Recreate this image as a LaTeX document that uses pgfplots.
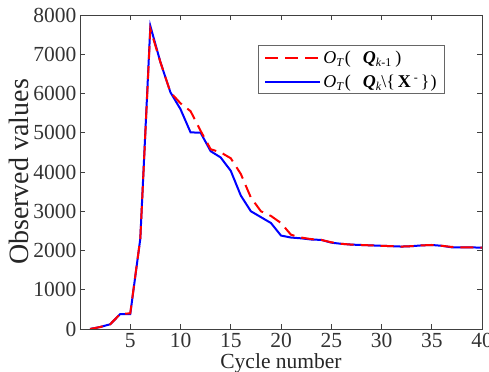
\documentclass[border=0pt]{standalone}
\usepackage{fontspec}
\setmainfont{Liberation Serif}
\usepackage{pgfplots}
\pgfplotsset{compat=1.18}
\newcommand{\sub}[1]{\raisebox{-3pt}{\fontsize{12}{13}\selectfont #1}}
\newcommand{\tl}[1]{\textrm{#1}}
\begin{document}
\begin{tikzpicture}
\begin{axis}[
  scale only axis,
  width=402pt, height=314pt,
  xmin=0, xmax=40, ymin=0, ymax=8000,
  xtick={5,10,15,20,25,30,35,40},
  xticklabels={\tl{5},\tl{10},\tl{15},\tl{20},\tl{25},\tl{30},\tl{35},\tl{40}},
  ytick={0,1000,2000,3000,4000,5000,6000,7000,8000},
  yticklabels={\tl{0},\tl{1000},\tl{2000},\tl{3000},\tl{4000},\tl{5000},\tl{6000},\tl{7000},\tl{8000}},
  tick align=inside,
  major tick length=5pt,
  axis line style={draw=black!75, line width=0.8pt},
  every tick/.style={black!75, line width=0.8pt},
  ticklabel style={font=\rmfamily\fontsize{21.5}{24}\selectfont, text=black!80},
  xticklabel style={yshift=-1pt},
  xlabel={Cycle number},
  ylabel={Observed values},
  xlabel style={font=\fontsize{21.5}{24}\selectfont, text=black!85, yshift=1pt},
  ylabel style={font=\fontsize{28}{30}\selectfont, text=black!85, yshift=-2pt},
  legend style={at={(0.908,0.904)}, anchor=north east, draw=black!60, line width=0.8pt,
    font=\fontsize{18}{20}\selectfont, row sep=6pt, inner xsep=6pt, inner ysep=3pt},
  legend image code/.code={\draw[#1] (0pt,0pt) -- (55pt,0pt);},
  legend cell align=left,
  reverse legend,
]
\addplot[blue, line width=2pt] coordinates {
(1,0) (2,50) (3,120) (4,380) (5,380) (6,2300) (7,7720) (8,6800) (9,6030)
(10,5600) (11,5010) (12,5000) (13,4530) (14,4370) (15,4030) (16,3400) (17,3000)
(18,2850) (19,2700) (20,2380) (21,2330) (22,2310) (23,2280) (24,2270) (25,2200)
(26,2170) (27,2150) (28,2140) (29,2130) (30,2120) (31,2110) (32,2100) (33,2110)
(34,2130) (35,2140) (36,2120) (37,2080) (38,2080) (39,2080) (40,2070)
};
\addlegendentry{\textit{O}\sub{\textit{T}}\kern1pt(\hspace{12pt}\textbf{\textit{Q}}\sub{\textit{k}}\textbackslash\{\,\textbf{X}\,\raisebox{6pt}{\fontsize{12}{13}\selectfont -}\,\}\kern1pt)}
\addplot[red, line width=2pt, dash pattern=on 13pt off 7pt] coordinates {
(1,0) (2,50) (3,120) (4,380) (5,400) (6,2300) (7,7640) (8,6800) (9,6030)
(10,5750) (11,5550) (12,5050) (13,4580) (14,4500) (15,4350) (16,3950) (17,3350)
(18,3000) (19,2880) (20,2700) (21,2400) (22,2330) (23,2290) (24,2270) (25,2210)
(26,2170) (27,2150) (28,2140) (29,2130) (30,2120) (31,2110) (32,2100) (33,2110)
(34,2130) (35,2140) (36,2120) (37,2090) (38,2080) (39,2080) (40,2070)
};
\addlegendentry{\textit{O}\sub{\textit{T}}\kern1pt(\hspace{12pt}\textbf{\textit{Q}}\sub{\textit{k}-1}\kern4pt)}
\end{axis}
\pgfresetboundingbox
\path ([shift={(-80pt,-43pt)}]current axis.south west) rectangle ([shift={(7pt,15pt)}]current axis.north east);
\end{tikzpicture}
\end{document}
